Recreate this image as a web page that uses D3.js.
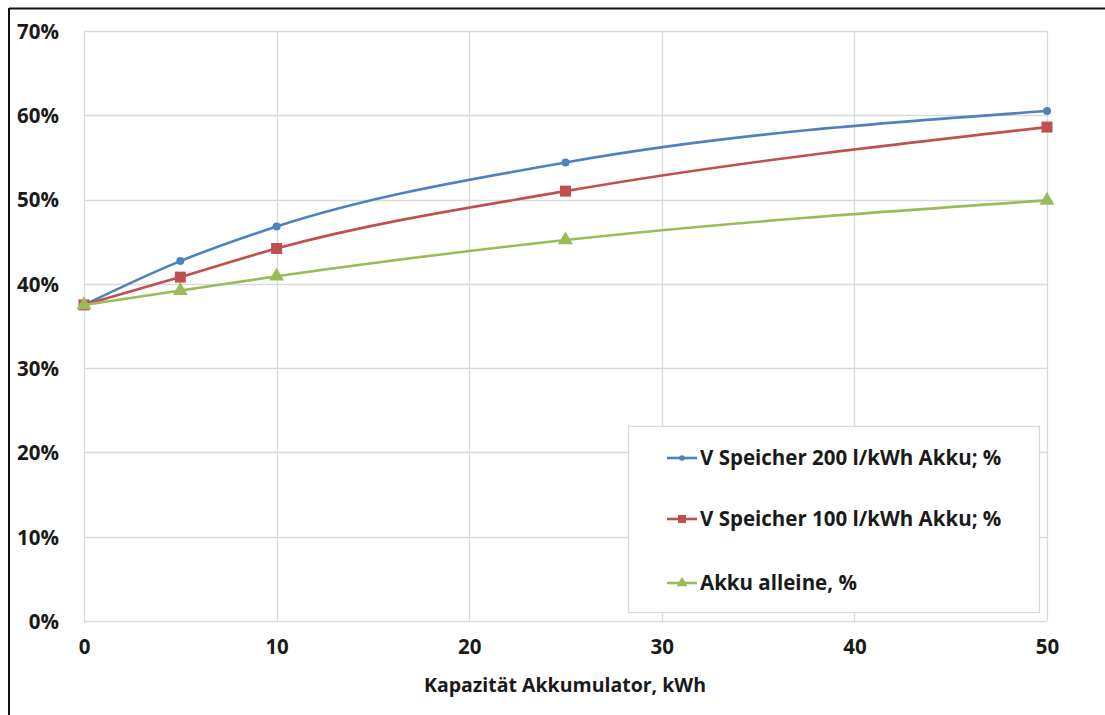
<!DOCTYPE html>
<html>
<head>
<meta charset="utf-8">
<script src="https://cdn.jsdelivr.net/npm/d3@7"></script>
<style>
  body { margin: 0; background: #fff; }
  svg text { font-family: "Open Sans", sans-serif; font-weight: bold; fill: #1a1a1a; }
</style>
</head>
<body>
<div id="chart"></div>
<script>
// Kapazität Akkumulator (kWh)
var capacity = [0, 5, 10, 25, 50];

// Werte in Prozent
var speicher200 = [37.5, 42.7, 46.8, 54.4, 60.5];
var speicher100 = [37.5, 40.8, 44.2, 51.0, 58.6];
var akkuAlleine = [37.5, 39.2, 40.9, 45.2, 49.9];

var seriesNames = ["V Speicher 200 l/kWh Akku; %", "V Speicher 100 l/kWh Akku; %", "Akku alleine, %"];
var seriesColors = ["#4f81bd", "#c0504d", "#9bbb59"];
var seriesShapes = ["circle", "square", "triangle"];

var xTicks = [0, 10, 20, 30, 40, 50];
var yTicks = [0, 10, 20, 30, 40, 50, 60, 70];

function init () 
{
    var w = 1105;
    var h = 715;
    var margin = {left: 84, top: 31, right: 58, bottom: 94};

    var svg = d3.select("#chart")
        .append("svg")
        .attr("width", w)
        .attr("height", h);

    // black frame (only top and left visible)
    svg.append("line").attr("x1", 9).attr("x2", w).attr("y1", 8.5).attr("y2", 8.5)
        .attr("stroke", "#111").attr("stroke-width", 2);
    svg.append("line").attr("x1", 9).attr("x2", 9).attr("y1", 8).attr("y2", h)
        .attr("stroke", "#111").attr("stroke-width", 2);

    var x = d3.scaleLinear().domain([0, 50]).range([margin.left, w - margin.right]);
    var y = d3.scaleLinear().domain([0, 70]).range([h - margin.bottom, margin.top]);

    //grid lines
    svg.append("g").selectAll("line.v")
        .data(xTicks).enter().append("line")
        .attr("x1", function(d){ return Math.round(x(d)) + 0.5; })
        .attr("x2", function(d){ return Math.round(x(d)) + 0.5; })
        .attr("y1", y(70)).attr("y2", y(0))
        .attr("stroke", "#d9d9d9").attr("stroke-width", 1.3);

    svg.append("g").selectAll("line.h")
        .data(yTicks).enter().append("line")
        .attr("x1", x(0)).attr("x2", x(50))
        .attr("y1", function(d){ return Math.round(y(d)) + 0.5; })
        .attr("y2", function(d){ return Math.round(y(d)) + 0.5; })
        .attr("stroke", "#d9d9d9").attr("stroke-width", 1.3);

    //axes via d3 axis generators, domain lines hidden
    var yAxis = svg.append("g")
        .attr("transform", "translate(" + (x(0) - 22) + ",0)")
        .call(d3.axisLeft(y).tickValues(yTicks).tickSize(0).tickFormat(function(d){ return d + "%"; }));
    yAxis.select(".domain").remove();
    yAxis.selectAll("text").attr("font-size", 20.5).attr("font-family", null).attr("dy", "0.36em");

    var xAxis = svg.append("g")
        .attr("transform", "translate(0," + (y(0) + 15) + ")")
        .call(d3.axisBottom(x).tickValues(xTicks).tickSize(0));
    xAxis.select(".domain").remove();
    xAxis.selectAll("text").attr("font-size", 20.5).attr("font-family", null).attr("dy", "0.72em");

    svg.append("text")
        .attr("x", 565).attr("y", 692)
        .attr("text-anchor", "middle")
        .attr("font-size", 19.5)
        .text("Kapazität Akkumulator, kWh");

    var allSeries = [speicher200, speicher100, akkuAlleine];

    var line = d3.line()
        .x(function(d, i){ return x(capacity[i]); })
        .y(function(d){ return y(d); })
        .curve(d3.curveMonotoneX);

    function drawMarker(g, shape, color, size) {
        if (shape === "circle") {
            g.append("circle").attr("r", size * 0.4).attr("fill", color);
        } else if (shape === "square") {
            g.append("rect").attr("x", -size / 2).attr("y", -size / 2)
                .attr("width", size).attr("height", size).attr("fill", color);
        } else {
            g.append("path").attr("d", d3.symbol(d3.symbolTriangle, size * size * 0.8)()).attr("fill", color);
        }
    }

    allSeries.forEach(function(values, s){
        svg.append("path")
            .attr("d", line(values))
            .attr("fill", "none")
            .attr("stroke", seriesColors[s])
            .attr("stroke-width", 2.6);

        values.forEach(function(v, i){
            var g = svg.append("g")
                .attr("transform", "translate(" + x(capacity[i]) + "," + y(v) + ")");
            drawMarker(g, seriesShapes[s], seriesColors[s], s === 0 ? 10 : 11);
        });
    });

    //legend
    var legend = svg.append("g");
    legend.append("rect")
        .attr("x", 628.5).attr("y", 426.5)
        .attr("width", 411).attr("height", 186)
        .attr("fill", "#fff")
        .attr("stroke", "#d9d9d9").attr("stroke-width", 1.3);

    var legendY = [458, 519, 583];
    seriesNames.forEach(function(name, s){
        var g = legend.append("g").attr("transform", "translate(0," + legendY[s] + ")");
        g.append("line").attr("x1", 667).attr("x2", 697)
            .attr("stroke", seriesColors[s]).attr("stroke-width", 2.6);
        var m = g.append("g").attr("transform", "translate(682,0)");
        drawMarker(m, seriesShapes[s], seriesColors[s], s === 0 ? 7 : 8);
        g.append("text")
            .attr("x", 700).attr("dy", "0.36em")
            .attr("font-size", 20.5)
            .text(name);
    });
}

window.onload = init;
</script>
</body>
</html>
